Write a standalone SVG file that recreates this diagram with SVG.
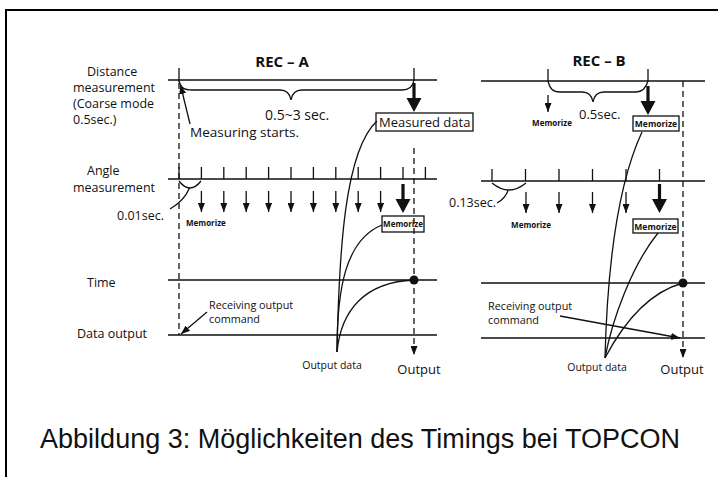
<svg xmlns="http://www.w3.org/2000/svg" width="718" height="477" viewBox="0 0 718 477">
<defs>
<style>
.t{font-family:"Open Sans","DejaVu Sans",sans-serif;font-size:13px;fill:#111}
.l{font-size:12.5px}
.s{font-size:10.8px}
.m{font-family:"Open Sans","DejaVu Sans",sans-serif;font-size:8px;font-weight:700;fill:#111}
.b{font-family:"Open Sans","DejaVu Sans",sans-serif;font-size:15px;font-weight:700;fill:#111}
.ln{stroke:#111;stroke-width:1.3;fill:none}
.dl{stroke:#111;stroke-width:1.3;fill:none;stroke-dasharray:6,4}
.bx{stroke:#111;stroke-width:1.3;fill:#fff}
.cap{font-family:"Liberation Sans",Arial,sans-serif;font-size:27px;fill:#111}
</style>
<marker id="ah" markerWidth="9" markerHeight="7" refX="9" refY="3.5" orient="auto" markerUnits="userSpaceOnUse"><path d="M0,0 L9,3.5 L0,7 z" fill="#111"/></marker>
<g id="big"><path d="M-1.6,0 H1.6 V15 H7.5 L0,29 L-7.5,15 H-1.6 z" fill="#111"/></g>
</defs>
<rect x="6" y="10" width="900" height="700" fill="none" stroke="#000" stroke-width="2"/>

<g id="labels">
<text class="t l" x="87" y="76">Distance</text>
<text class="t l" x="73" y="92">measurement</text>
<text class="t l" x="73" y="108">(Coarse mode</text>
<text class="t l" x="73" y="124">0.5sec.)</text>
<text class="t l" x="87" y="175">Angle</text>
<text class="t l" x="73" y="192">measurement</text>
<text class="t l" x="87" y="287">Time</text>
<text class="t l" x="77" y="338">Data output</text>
</g>

<g id="recA">
<text class="b" x="282" y="67" text-anchor="middle">REC – A</text>
<text class="t" x="265" y="120" style="font-size:14px">0.5~3 sec.</text>
<text class="t" x="190" y="137" style="font-size:13.5px">Measuring starts.</text>
<g id="measured-data"><rect class="bx" x="376" y="113" width="97" height="18"/><text class="t" x="379" y="127">Measured data</text></g>
<text class="t" x="164" y="220" text-anchor="end" style="font-size:12.5px">0.01sec.</text>
<text class="m" x="186" y="226">Memorize</text>
<g id="memorize-a"><rect class="bx" x="382" y="216" width="42" height="16"/><text class="m" x="403" y="227" text-anchor="middle">Memorize</text></g>
<text class="t s" x="209" y="309">Receiving output</text>
<text class="t s" x="209" y="323">command</text>
<text class="t" x="332" y="369" text-anchor="middle" style="font-size:10.5px">Output data</text>
<text class="t" x="419" y="374" text-anchor="middle">Output</text>
</g>

<g id="recB">
<text class="b" x="599" y="66" text-anchor="middle">REC – B</text>
<text class="t" x="579" y="119">0.5sec.</text>
<text class="m" x="552" y="126" text-anchor="middle">Memorize</text>
<g id="memorize-b1"><rect class="bx" x="633" y="116" width="46" height="15"/><text class="m" x="656" y="127" text-anchor="middle" style="font-size:8.5px">Memorize</text></g>
<text class="t" x="496" y="207" text-anchor="end" style="font-size:12.5px">0.13sec.</text>
<text class="m" x="531" y="228" text-anchor="middle">Memorize</text>
<g id="memorize-b2"><rect class="bx" x="633" y="219" width="45" height="14"/><text class="m" x="655.5" y="229.5" text-anchor="middle" style="font-size:8.5px">Memorize</text></g>
<text class="t s" x="488" y="310">Receiving output</text>
<text class="t s" x="488" y="324">command</text>
<text class="t" x="597" y="371" text-anchor="middle" style="font-size:10.5px">Output data</text>
<text class="t" x="682" y="374" text-anchor="middle">Output</text>
</g>

<g id="connectors">
<path class="ln" d="M168,80 H437 M179,68 V82 M414,68 V80 M168,179 H437 M168,280 H437 M168,335 H437"/>
<path class="ln" d="M179,81 C181,88 184,90 192,90 H280 C287,90 290,94 291,100 C292,94 295,90 302,90 H402 C410,90 413,86 414,80"/>
<path class="ln" d="M190,124 L180.5,85" marker-end="url(#ah)"/>
<use href="#big" x="414" y="83"/>
<path class="ln" d="M179,167 V179 M201.4,167 V179 M223.8,167 V179 M246.2,167 V179 M268.6,167 V179 M291,167 V179 M313.4,167 V179 M335.8,167 V179 M358.2,167 V179 M380.6,167 V179 M403,167 V179 M425.4,167 V179"/>
<path class="ln" d="M179,181 Q190,195 201,181 M189.5,188 Q184,201 170,209"/>
<g class="ln" marker-end="url(#ah)">
<path d="M201.4,191 V212"/><path d="M223.8,191 V212"/><path d="M246.2,191 V212"/><path d="M268.6,191 V212"/><path d="M291,191 V212"/><path d="M313.4,191 V212"/><path d="M335.8,191 V212"/><path d="M358.2,191 V212"/><path d="M380.6,191 V212"/>
</g>
<use href="#big" x="403" y="184"/>
<path class="dl" d="M179,83 V335"/>
<path class="dl" d="M414,148 V355" marker-end="url(#ah)"/>
<circle cx="414" cy="280" r="4.5" fill="#111"/>
<path class="ln" d="M207,312 L181,334" marker-end="url(#ah)"/>
<path class="ln" d="M337,352 C339,250 345,150 377,121"/>
<path class="ln" d="M337,352 C337,290 345,240 382,225"/>
<path class="ln" d="M337,352 C341,310 365,282 414,280"/>
<path class="ln" d="M481,81 H705 M548,69 V81 M648,69 V81 M481,181 H705 M481,283 H705 M481,338 H705"/>
<path class="ln" d="M548,81 C550,89 553,92 560,92 H582 C589,92 592,96 593,102 C594,96 597,92 604,92 H636 C643,92 646,88 648,81"/>
<path class="ln" d="M548,95 V112" marker-end="url(#ah)"/>
<use href="#big" x="648" y="86"/>
<path class="ln" d="M492,169 V181 M525.5,169 V181 M559,169 V181 M592.5,169 V181 M626,169 V181 M659.5,169 V181"/>
<path class="ln" d="M492,183 Q509,197 526,183 M508.5,189.5 Q505,199 497,203"/>
<g class="ln" marker-end="url(#ah)">
<path d="M526,192 V213"/><path d="M559,192 V213"/><path d="M592.5,192 V213"/><path d="M626,192 V213"/>
</g>
<use href="#big" x="659.5" y="184"/>
<path class="dl" d="M683,81 V358" marker-end="url(#ah)"/>
<circle cx="683" cy="283" r="4.5" fill="#111"/>
<path class="ln" d="M560,316 L680,338" marker-end="url(#ah)"/>
<path class="ln" d="M605,358 C607,280 615,190 642,132"/>
<path class="ln" d="M605,358 C612,320 632,265 658,233"/>
<path class="ln" d="M605,358 C625,320 650,292 683,283"/>
</g>

<text class="cap" x="360" y="448" text-anchor="middle">Abbildung 3: Möglichkeiten des Timings bei TOPCON</text>
</svg>
